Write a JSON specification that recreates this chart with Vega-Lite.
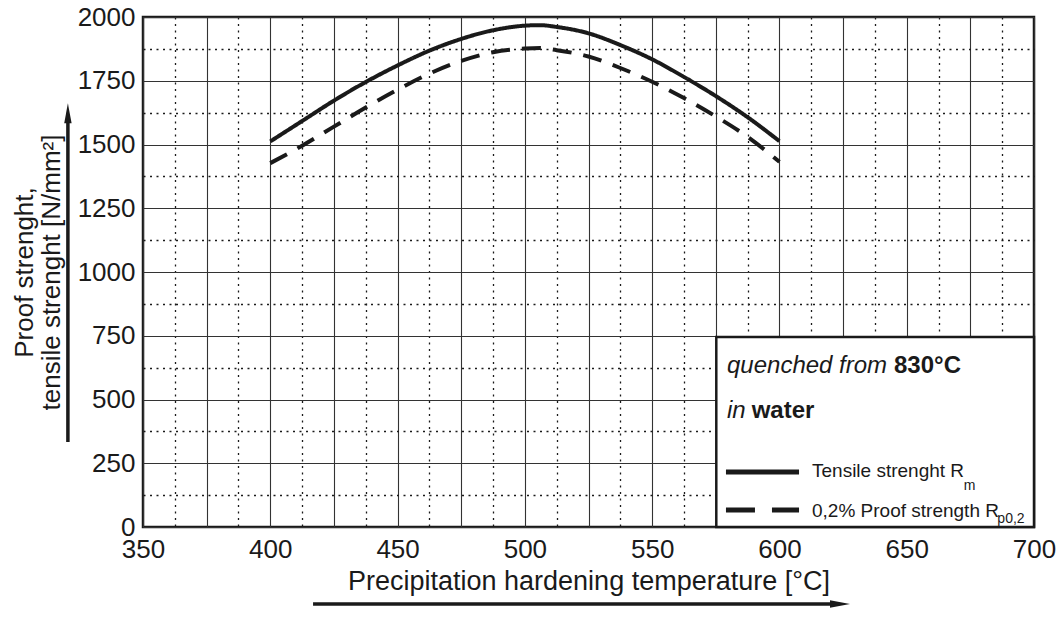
{
  "$schema": "https://vega.github.io/schema/vega-lite/v6.json",
  "width": 891,
  "height": 510,
  "autosize": {"type": "none"},
  "padding": {"left": 143, "top": 17, "right": 28, "bottom": 90},
  "background": "white",
  "config": {
    "view": {"stroke": "#1a1a1a", "strokeWidth": 2.5},
    "font": "Liberation Sans",
    "text": {"font": "Liberation Sans", "color": "#1a1a1a"}
  },
  "datasets": {
    "curves": [
      {"temp": 400, "strength": 1512, "series": "Rm"},
      {"temp": 412.5, "strength": 1592, "series": "Rm"},
      {"temp": 425, "strength": 1672, "series": "Rm"},
      {"temp": 437.5, "strength": 1745, "series": "Rm"},
      {"temp": 450, "strength": 1810, "series": "Rm"},
      {"temp": 462.5, "strength": 1868, "series": "Rm"},
      {"temp": 475, "strength": 1914, "series": "Rm"},
      {"temp": 487.5, "strength": 1948, "series": "Rm"},
      {"temp": 500, "strength": 1966, "series": "Rm"},
      {"temp": 506, "strength": 1968, "series": "Rm"},
      {"temp": 512.5, "strength": 1961, "series": "Rm"},
      {"temp": 525, "strength": 1936, "series": "Rm"},
      {"temp": 537.5, "strength": 1890, "series": "Rm"},
      {"temp": 550, "strength": 1834, "series": "Rm"},
      {"temp": 562.5, "strength": 1765, "series": "Rm"},
      {"temp": 575, "strength": 1690, "series": "Rm"},
      {"temp": 587.5, "strength": 1607, "series": "Rm"},
      {"temp": 600, "strength": 1513, "series": "Rm"},
      {"temp": 400, "strength": 1427, "series": "Rp02"},
      {"temp": 412.5, "strength": 1495, "series": "Rp02"},
      {"temp": 425, "strength": 1570, "series": "Rp02"},
      {"temp": 437.5, "strength": 1645, "series": "Rp02"},
      {"temp": 450, "strength": 1715, "series": "Rp02"},
      {"temp": 462.5, "strength": 1778, "series": "Rp02"},
      {"temp": 475, "strength": 1828, "series": "Rp02"},
      {"temp": 487.5, "strength": 1862, "series": "Rp02"},
      {"temp": 500, "strength": 1876, "series": "Rp02"},
      {"temp": 506, "strength": 1878, "series": "Rp02"},
      {"temp": 512.5, "strength": 1870, "series": "Rp02"},
      {"temp": 525, "strength": 1845, "series": "Rp02"},
      {"temp": 537.5, "strength": 1800, "series": "Rp02"},
      {"temp": 550, "strength": 1746, "series": "Rp02"},
      {"temp": 562.5, "strength": 1682, "series": "Rp02"},
      {"temp": 575, "strength": 1610, "series": "Rp02"},
      {"temp": 587.5, "strength": 1530, "series": "Rp02"},
      {"temp": 600, "strength": 1432, "series": "Rp02"}
    ]
  },
  "resolve": {"axis": {"x": "independent", "y": "independent"}},
  "layer": [
    {
      "data": {"name": "curves"},
      "mark": {"type": "point", "opacity": 0},
      "encoding": {
        "x": {
          "field": "temp", "type": "quantitative",
          "scale": {"domain": [350, 700], "nice": false, "zero": false},
          "axis": {
            "orient": "bottom",
            "values": [362.5, 387.5, 412.5, 437.5, 462.5, 487.5, 512.5, 537.5, 562.5, 587.5, 612.5, 637.5, 662.5, 687.5],
            "grid": true, "gridDash": [2, 4.5], "gridColor": "#1a1a1a", "gridWidth": 1.3, "gridOpacity": 1,
            "domain": false, "ticks": false, "labels": false, "title": null
          }
        },
        "y": {
          "field": "strength", "type": "quantitative",
          "scale": {"domain": [0, 2000], "nice": false, "zero": false},
          "axis": {
            "orient": "left",
            "values": [125, 375, 625, 875, 1125, 1375, 1625, 1875],
            "grid": true, "gridDash": [2, 4.5], "gridColor": "#1a1a1a", "gridWidth": 1.3, "gridOpacity": 1,
            "domain": false, "ticks": false, "labels": false, "title": null
          }
        }
      }
    },
    {
      "data": {"name": "curves"},
      "mark": {"type": "line", "color": "#1a1a1a", "strokeWidth": 4, "interpolate": "monotone"},
      "encoding": {
        "x": {
          "field": "temp", "type": "quantitative",
          "scale": {"domain": [350, 700], "nice": false, "zero": false},
          "axis": {
            "orient": "bottom",
            "values": [350, 375, 400, 425, 450, 475, 500, 525, 550, 575, 600, 625, 650, 675, 700],
            "labelExpr": "datum.value % 50 === 0 ? datum.label : ''",
            "grid": true, "gridColor": "#333333", "gridWidth": 1.1, "gridOpacity": 1,
            "domain": false, "ticks": false,
            "labelFontSize": 26, "labelColor": "#1a1a1a", "labelPadding": 9, "labelFlush": false,
            "title": "Precipitation hardening temperature [°C]",
            "titleFontSize": 27, "titleFontWeight": "normal", "titleColor": "#1a1a1a", "titlePadding": 6
          }
        },
        "y": {
          "field": "strength", "type": "quantitative",
          "scale": {"domain": [0, 2000], "nice": false, "zero": false},
          "axis": {
            "orient": "left",
            "values": [0, 250, 500, 750, 1000, 1250, 1500, 1750, 2000],
            "format": "d",
            "grid": true, "gridColor": "#333333", "gridWidth": 1.1, "gridOpacity": 1,
            "domain": false, "ticks": false,
            "labelFontSize": 26, "labelColor": "#1a1a1a", "labelPadding": 8, "labelFlush": false,
            "title": ["Proof strenght,", "tensile strenght [N/mm²]"],
            "titleFontSize": 26, "titleFontWeight": "normal", "titleColor": "#1a1a1a",
            "titleLineHeight": 27, "titlePadding": 13
          }
        },
        "strokeDash": {
          "field": "series", "type": "nominal",
          "scale": {"domain": ["Rm", "Rp02"], "range": [[1, 0], [19, 12]]},
          "legend": null
        }
      }
    },
    {
      "data": {"values": [{}]},
      "mark": {"type": "rect", "fill": "white", "stroke": "#1a1a1a", "strokeWidth": 2.5},
      "encoding": {
        "x": {"datum": 575.2, "type": "quantitative", "scale": {"domain": [350, 700], "nice": false, "zero": false}, "axis": null},
        "x2": {"datum": 700},
        "y": {"datum": 0, "type": "quantitative", "scale": {"domain": [0, 2000], "nice": false, "zero": false}, "axis": null},
        "y2": {"datum": 745}
      }
    },
    {
      "data": {"values": [{}]},
      "mark": {"type": "text", "text": "quenched from", "fontStyle": "italic", "fontSize": 24, "align": "left", "baseline": "alphabetic"},
      "encoding": {
        "x": {"datum": 579.4, "type": "quantitative", "axis": null},
        "y": {"datum": 604, "type": "quantitative", "axis": null}
      }
    },
    {
      "data": {"values": [{}]},
      "mark": {"type": "text", "text": "830°C", "fontWeight": "bold", "fontSize": 24, "align": "left", "baseline": "alphabetic"},
      "encoding": {
        "x": {"datum": 645.0, "type": "quantitative", "axis": null},
        "y": {"datum": 604, "type": "quantitative", "axis": null}
      }
    },
    {
      "data": {"values": [{}]},
      "mark": {"type": "text", "text": "in", "fontStyle": "italic", "fontSize": 24, "align": "left", "baseline": "alphabetic"},
      "encoding": {
        "x": {"datum": 579.4, "type": "quantitative", "axis": null},
        "y": {"datum": 427, "type": "quantitative", "axis": null}
      }
    },
    {
      "data": {"values": [{}]},
      "mark": {"type": "text", "text": "water", "fontWeight": "bold", "fontSize": 24, "align": "left", "baseline": "alphabetic"},
      "encoding": {
        "x": {"datum": 589.1, "type": "quantitative", "axis": null},
        "y": {"datum": 427, "type": "quantitative", "axis": null}
      }
    },
    {
      "data": {"values": [{}]},
      "mark": {"type": "rule", "color": "#1a1a1a", "strokeWidth": 5},
      "encoding": {
        "x": {"datum": 579.0, "type": "quantitative", "axis": null},
        "x2": {"datum": 607.7},
        "y": {"datum": 216, "type": "quantitative", "axis": null}
      }
    },
    {
      "data": {"values": [{}]},
      "mark": {"type": "rule", "color": "#1a1a1a", "strokeWidth": 5, "strokeDash": [29, 17]},
      "encoding": {
        "x": {"datum": 579.0, "type": "quantitative", "axis": null},
        "x2": {"datum": 607.7},
        "y": {"datum": 67, "type": "quantitative", "axis": null}
      }
    },
    {
      "data": {"values": [{}]},
      "mark": {"type": "text", "text": "Tensile strenght R", "fontSize": 19, "align": "left", "baseline": "alphabetic"},
      "encoding": {
        "x": {"datum": 612.8, "type": "quantitative", "axis": null},
        "y": {"datum": 196, "type": "quantitative", "axis": null}
      }
    },
    {
      "data": {"values": [{}]},
      "mark": {"type": "text", "text": "m", "fontSize": 14, "align": "left", "baseline": "alphabetic"},
      "encoding": {
        "x": {"datum": 672.4, "type": "quantitative", "axis": null},
        "y": {"datum": 145, "type": "quantitative", "axis": null}
      }
    },
    {
      "data": {"values": [{}]},
      "mark": {"type": "text", "text": "0,2% Proof strength R", "fontSize": 19, "align": "left", "baseline": "alphabetic"},
      "encoding": {
        "x": {"datum": 612.8, "type": "quantitative", "axis": null},
        "y": {"datum": 39, "type": "quantitative", "axis": null}
      }
    },
    {
      "data": {"values": [{}]},
      "mark": {"type": "text", "text": "p0,2", "fontSize": 14, "align": "left", "baseline": "alphabetic"},
      "encoding": {
        "x": {"datum": 685.6, "type": "quantitative", "axis": null},
        "y": {"datum": 16, "type": "quantitative", "axis": null}
      }
    },
    {
      "data": {"values": [{}]},
      "mark": {"type": "rule", "color": "#1a1a1a", "strokeWidth": 3.5},
      "encoding": {
        "x": {"datum": 320.5, "type": "quantitative", "axis": null},
        "y": {"datum": 333, "type": "quantitative", "axis": null},
        "y2": {"datum": 1610}
      }
    },
    {
      "data": {"values": [{}]},
      "mark": {"type": "point", "shape": "M0,-1L0.37,1L-0.37,1Z", "filled": true, "color": "#1a1a1a", "opacity": 1, "size": 400, "strokeWidth": 0},
      "encoding": {
        "x": {"datum": 320.5, "type": "quantitative", "axis": null},
        "y": {"datum": 1623, "type": "quantitative", "axis": null}
      }
    },
    {
      "data": {"values": [{}]},
      "mark": {"type": "rule", "color": "#1a1a1a", "strokeWidth": 3.5},
      "encoding": {
        "x": {"datum": 416.8, "type": "quantitative", "axis": null},
        "x2": {"datum": 622},
        "y": {"datum": -302, "type": "quantitative", "axis": null}
      }
    },
    {
      "data": {"values": [{}]},
      "mark": {"type": "point", "shape": "M1,0L-1,0.37L-1,-0.37Z", "filled": true, "color": "#1a1a1a", "opacity": 1, "size": 400, "strokeWidth": 0},
      "encoding": {
        "x": {"datum": 623.8, "type": "quantitative", "axis": null},
        "y": {"datum": -302, "type": "quantitative", "axis": null}
      }
    }
  ]
}
